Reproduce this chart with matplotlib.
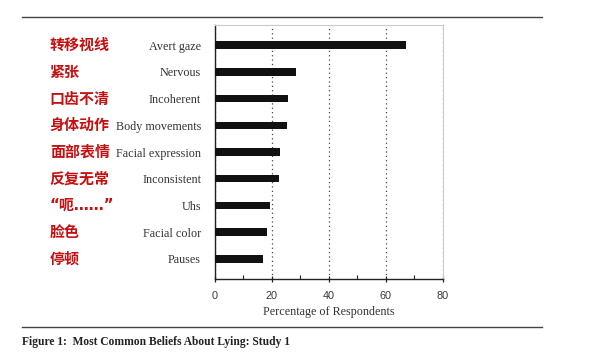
import matplotlib
matplotlib.use('Agg')
import matplotlib.pyplot as plt
from matplotlib.lines import Line2D
from matplotlib.ticker import MultipleLocator
import matplotlib.transforms as mtransforms

# Data
labels_en = ['Avert gaze', 'Nervous', 'Incoherent', 'Body movements', 'Facial expression',
             'Inconsistent', 'Uhs', 'Facial color', 'Pauses']
labels_zh = ['转移视线', '紧张', '口齿不清', '身体动作', '面部表情',
             '反复无常', '“呃……”', '脸色', '停顿']
percent = [66.9, 28.3, 25.5, 25.1, 22.8, 22.3, 19.2, 18.2, 16.8]
xticks = [0, 20, 40, 60, 80]

serif = 'Liberation Serif'
sans = 'Liberation Sans'

fig = plt.figure(figsize=(6, 3.53), dpi=100)
ax = fig.add_axes([0.3583, 0.2096, 0.38, 0.7196])

ypos = list(range(len(labels_en)))
ax.barh(ypos, percent, height=0.28, color='#111111', zorder=3)

ax.set_xlim(0, 80)
ax.set_ylim(len(labels_en) - 0.25, -0.75)
ax.set_xticks(xticks)
ax.xaxis.set_minor_locator(MultipleLocator(10))
ax.set_yticks(ypos)
ax.set_yticklabels(labels_en, fontfamily=serif, fontsize=8.7, color='#333333')
ax.tick_params(axis='y', length=0, pad=10)
ax.tick_params(axis='x', which='major', direction='inout', length=5, width=0.9,
               color='#222222', labelsize=7.8, labelcolor='#3a3a3a', pad=6)
ax.tick_params(axis='x', which='minor', direction='in', length=3, width=0.8, color='#222222')
for t in ax.get_xticklabels():
    t.set_fontfamily(sans)

ax.grid(axis='x', linestyle=(0, (1, 2.5)), color='#444444', linewidth=0.9, zorder=1)
ax.spines['left'].set_color('#222222')
ax.spines['bottom'].set_color('#222222')
ax.spines['left'].set_linewidth(1.0)
ax.spines['bottom'].set_linewidth(1.0)
ax.spines['top'].set_color('#cccccc')
ax.spines['right'].set_color('#cccccc')
ax.spines['top'].set_linewidth(0.8)
ax.spines['right'].set_linewidth(0.8)

ax.set_xlabel('Percentage of Respondents', fontfamily=serif, fontsize=8.7,
              color='#333333', labelpad=4)

# Chinese labels in red on the left
trans = mtransforms.blended_transform_factory(fig.transFigure, ax.transData)
for y, txt in zip(ypos, labels_zh):
    fam = ['Noto Sans CJK SC', 'DejaVu Sans']
    if txt.startswith('“'):
        fam = ['DejaVu Sans', 'Noto Sans CJK SC']
    ax.text(0.083, y, txt, transform=trans, ha='left', va='center',
            fontfamily=fam, fontsize=10.8, fontweight='bold', color='#c41010')

# Horizontal rules and caption
fig.add_artist(Line2D([0.037, 0.903], [0.953, 0.953], color='#444444', linewidth=1.0))
fig.add_artist(Line2D([0.037, 0.903], [0.074, 0.074], color='#444444', linewidth=1.0))
fig.text(0.037, 0.031, 'Figure 1:  Most Common Beliefs About Lying: Study 1',
         fontfamily=serif, fontsize=8.3, fontweight='bold', color='#222222',
         ha='left', va='center')

fig.savefig('out.png', dpi=100)
